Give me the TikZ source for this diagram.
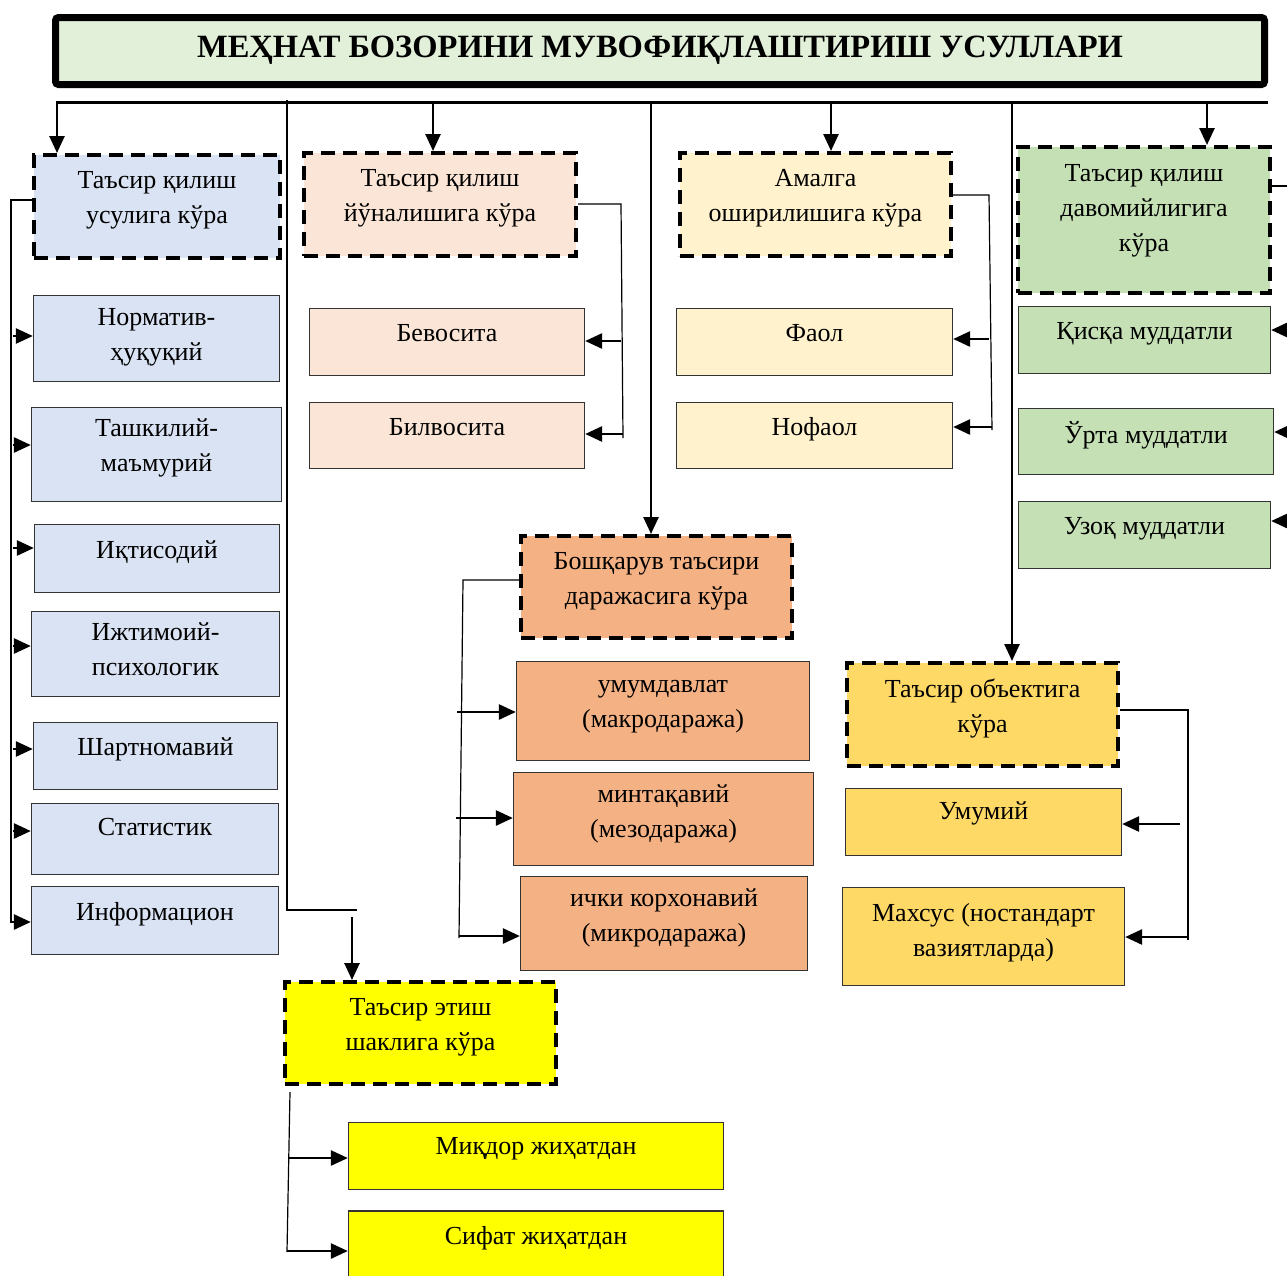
\documentclass[tikz,border=0pt]{standalone}
\usepackage{fontspec}
\setmainfont{Liberation Serif}
\usetikzlibrary{arrows.meta}
\definecolor{cTitle}{HTML}{E2F0D9}
\definecolor{cBlue}{HTML}{DAE3F3}
\definecolor{cPeach}{HTML}{FBE5D6}
\definecolor{cCream}{HTML}{FFF2CC}
\definecolor{cGreen}{HTML}{C5E0B4}
\definecolor{cOrange}{HTML}{F4B183}
\definecolor{cGold}{HTML}{FFD966}
\definecolor{cYellow}{HTML}{FFFF00}
\begin{document}
\begin{tikzpicture}[x=1pt,y=-1pt,
  every node/.style={font=\fontsize{26}{35}\selectfont, align=center, inner sep=0pt, text depth=18pt},
  hdr/.style={rectangle, draw=black, line width=4pt, dash pattern=on 14pt off 8pt},
  kid/.style={rectangle, draw=black!80, line width=1.3pt},
  arr/.style={line width=2.6pt, -{Triangle[length=17pt,width=15pt]}},
  bus/.style={line width=1.2pt},
  titlebox/.style={rectangle, draw=black, line width=7pt, rounded corners=3pt, fill=cTitle,
    font=\bfseries\fontsize{32.5}{38}\selectfont, text depth=9pt}
]
\useasboundingbox (0,0) rectangle (1287,1275);
\clip (0,0) rectangle (1287,1275);

% title
\node[titlebox, minimum width=1209pt, minimum height=67pt] (title) at (660,51) {МЕҲНАТ БОЗОРИНИ МУВОФИҚЛАШТИРИШ УСУЛЛАРИ};

% headers
\node[hdr, fill=cBlue,   minimum width=246pt, minimum height=103pt] (h1) at (157,206.5) {Таъсир қилиш\\усулига кўра};
\node[hdr, fill=cPeach,  minimum width=272pt, minimum height=103pt] (h2) at (440,204.5) {Таъсир қилиш\\йўналишига кўра};
\node[hdr, fill=cCream,  minimum width=271pt, minimum height=103pt] (h3) at (815.5,204.5) {Амалга\\оширилишига кўра};
\node[hdr, fill=cGreen,  minimum width=252pt, minimum height=146pt, text depth=24pt] (h4) at (1144,220) {Таъсир қилиш\\давомийлигига\\кўра};
\node[hdr, fill=cOrange, minimum width=271pt, minimum height=102pt] (h5) at (656.5,587) {Бошқарув таъсири\\даражасига кўра};
\node[hdr, fill=cGold,   minimum width=271pt, minimum height=103pt] (h6) at (982.5,714.5) {Таъсир объектига\\кўра};
\node[hdr, fill=cYellow, minimum width=271pt, minimum height=102pt] (h7) at (420.5,1033) {Таъсир этиш\\шаклига кўра};

% blue children
\node[kid, fill=cBlue, minimum width=246pt, minimum height=86pt, text depth=8pt] (b1) at (156.5,338.5) {Норматив-\\ҳуқуқий};
\node[kid, fill=cBlue, minimum width=250pt, minimum height=94pt] (b2) at (156.5,454.5) {Ташкилий-\\маъмурий};
\node[kid, fill=cBlue, minimum width=245pt, minimum height=68pt] (b3) at (157,558.5) {Иқтисодий};
\node[kid, fill=cBlue, minimum width=248pt, minimum height=85pt, text depth=10pt] (b4) at (155.5,654) {Ижтимоий-\\психологик};
\node[kid, fill=cBlue, minimum width=244pt, minimum height=67pt] (b5) at (155.5,756) {Шартномавий};
\node[kid, fill=cBlue, minimum width=247pt, minimum height=71pt, text depth=24pt] (b6) at (155,839) {Статистик};
\node[kid, fill=cBlue, minimum width=247pt, minimum height=68pt] (b7) at (155,920.5) {Информацион};

% peach / cream children
\node[kid, fill=cPeach, minimum width=275pt, minimum height=67pt] (p1) at (447,342) {Бевосита};
\node[kid, fill=cPeach, minimum width=275pt, minimum height=66pt] (p2) at (447,435.5) {Билвосита};
\node[kid, fill=cCream, minimum width=276pt, minimum height=67pt] (c1) at (814.5,342) {Фаол};
\node[kid, fill=cCream, minimum width=276pt, minimum height=66pt] (c2) at (814.5,435.5) {Нофаол};

% green children
\node[kid, fill=cGreen, minimum width=252pt, minimum height=67pt] (g1) at (1144.5,340) {Қисқа муддатли};
\node[kid, fill=cGreen, minimum width=255pt, minimum height=66pt] (g2) at (1146,441.5) {Ўрта муддатли};
\node[kid, fill=cGreen, minimum width=252pt, minimum height=67pt] (g3) at (1144.5,535) {Узоқ муддатли};

% orange children
\node[kid, fill=cOrange, minimum width=293pt, minimum height=99pt, text depth=14pt] (o1) at (663,711) {умумдавлат\\(макродаража)};
\node[kid, fill=cOrange, minimum width=300pt, minimum height=93pt, text depth=16pt] (o2) at (663.5,819) {минтақавий\\(мезодаража)};
\node[kid, fill=cOrange, minimum width=287pt, minimum height=94pt, text depth=16pt] (o3) at (664,923.5) {ички корхонавий\\(микродаража)};

% gold children
\node[kid, fill=cGold, minimum width=276pt, minimum height=67pt, text depth=22pt] (y1) at (983.5,822) {Умумий};
\node[kid, fill=cGold, minimum width=282pt, minimum height=98pt, text depth=14pt] (y2) at (983.5,936.5) {Махсус (ностандарт\\вазиятларда)};

% yellow children
\node[kid, fill=cYellow, minimum width=375pt, minimum height=67pt, text depth=20pt] (z1) at (536,1156) {Миқдор жиҳатдан};
\node[kid, fill=cYellow, minimum width=375pt, minimum height=84pt, text depth=36pt] (z2) at (536,1253) {Сифат жиҳатдан};

% ===== top bus =====
\coordinate (tA) at (57,102);
\coordinate (tB) at (433,102);
\coordinate (tC) at (651,102);
\coordinate (tD) at (831,102);
\coordinate (tE) at (1012,102);
\coordinate (tF) at (1207,102);
\coordinate (tX) at (287,100);
\coordinate (tEnd) at (1268,102);
\draw[line width=3pt] (55.5,102) -- (tEnd);
\draw[arr] (tA) -- (tA |- h1.north);
\draw[arr] (tB) -- (tB |- h2.north);
\draw[arr] (tC) -- (tC |- h5.north);
\draw[arr] (tD) -- (tD |- h3.north);
\draw[arr] (tE) -- (tE |- h6.north);
\draw[arr] (tF) -- (tF |- h4.north);

% thin line to the yellow group
\coordinate (k1) at (287,910);
\coordinate (k2) at (357,910);
\coordinate (k3) at (352,917);
\draw[bus] (tX) -- (k1) -- (k2);
\draw[arr] (k3) -- (k3 |- h7.north);

% ===== blue group =====
\coordinate (bt) at (11,200);
\coordinate (bb) at (11,923);
\draw[bus] (h1.west |- bt) -- (bt) -- (bb);
\coordinate (ba1) at (13,336);
\coordinate (ba2) at (13,445);
\coordinate (ba3) at (13,548);
\coordinate (ba4) at (13,646);
\coordinate (ba5) at (13,749);
\coordinate (ba6) at (13,831);
\coordinate (ba7) at (11,922);
\draw[arr] (ba1) -- (ba1 -| b1.west);
\draw[arr] (ba2) -- (ba2 -| b2.west);
\draw[arr] (ba3) -- (ba3 -| b3.west);
\draw[arr] (ba4) -- (ba4 -| b4.west);
\draw[arr] (ba5) -- (ba5 -| b5.west);
\draw[arr] (ba6) -- (ba6 -| b6.west);
\draw[arr] (ba7) -- (ba7 -| b7.west);

% ===== peach group =====
\coordinate (pt) at (621,204);
\coordinate (pb) at (623,438);
\draw[bus] (h2.east |- pt) -- (pt) -- (pb);
\coordinate (pa1) at (621,341);
\coordinate (pa2) at (623,434);
\draw[arr] (pa1) -- (pa1 -| p1.east);
\draw[arr] (pa2) -- (pa2 -| p2.east);

% ===== cream group =====
\coordinate (ct) at (989,195);
\coordinate (cb) at (992,430);
\draw[bus] (h3.east |- ct) -- (ct) -- (cb);
\coordinate (ca1) at (989,339);
\coordinate (ca2) at (992,427);
\draw[arr] (ca1) -- (ca1 -| c1.east);
\draw[arr] (ca2) -- (ca2 -| c2.east);

% ===== green group (continues past the right edge) =====
\coordinate (gt) at (1305,186);
\coordinate (gb) at (1305,525);
\draw[bus] (h4.east |- gt) -- (gt) -- (gb);
\coordinate (ga1) at (1305,330);
\coordinate (ga2) at (1305,432);
\coordinate (ga3) at (1305,521);
\draw[arr] (ga1) -- (ga1 -| g1.east);
\draw[arr] (ga2) -- (ga2 -| g2.east);
\draw[arr] (ga3) -- (ga3 -| g3.east);

% ===== orange group =====
\coordinate (ot) at (463,580);
\coordinate (ob) at (459,938);
\draw[bus] (h5.west |- ot) -- (ot) -- (ob);
\coordinate (oa1) at (457,712);
\coordinate (oa2) at (456,818);
\coordinate (oa3) at (459,936);
\draw[arr] (oa1) -- (oa1 -| o1.west);
\draw[arr] (oa2) -- (oa2 -| o2.west);
\draw[arr] (oa3) -- (oa3 -| o3.west);

% ===== gold group =====
\coordinate (yt) at (1188,710);
\coordinate (yb) at (1188,940);
\draw[bus] (h6.east |- yt) -- (yt) -- (yb);
\coordinate (ya1) at (1180,824);
\coordinate (ya2) at (1188,937);
\draw[arr] (ya1) -- (ya1 -| y1.east);
\draw[arr] (ya2) -- (ya2 -| y2.east);

% ===== yellow group =====
\coordinate (zt) at (290,1092);
\coordinate (zb) at (287,1252);
\draw[bus] (zt) -- (zb);
\coordinate (za1) at (288,1158);
\coordinate (za2) at (287,1251);
\draw[arr] (za1) -- (za1 -| z1.west);
\draw[arr] (za2) -- (za2 -| z2.west);
\end{tikzpicture}
\end{document}
